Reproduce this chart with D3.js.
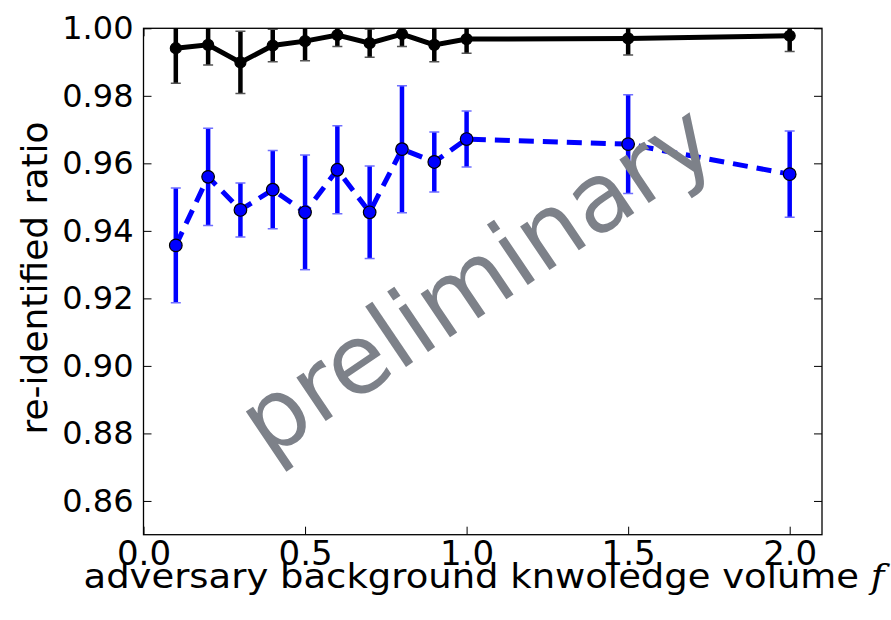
<!DOCTYPE html>
<html>
<head>
<meta charset="utf-8">
<script src="https://cdn.jsdelivr.net/npm/d3@7"></script>
<style>
  body { margin: 0; background: #fff; }
  svg { display: block; font-family: "DejaVu Sans", sans-serif; }
</style>
</head>
<body>
<svg id="chart" width="891" height="620"></svg>
<script>
// data
var xs = [0.1, 0.2, 0.3, 0.4, 0.5, 0.6, 0.7, 0.8, 0.9, 1.0, 1.5, 2.0];
var blackVals = [0.9941, 0.9951, 0.9899, 0.9949, 0.9962, 0.9980, 0.9956, 0.9983, 0.9951, 0.9968, 0.9970, 0.9978];
var blackErr = [0.0104, 0.0060, 0.0092, 0.0048, 0.0058, 0.0034, 0.0042, 0.0037, 0.0050, 0.0042, 0.0049, 0.0047];
var blueVals = [0.9357, 0.9560, 0.9462, 0.9522, 0.9455, 0.9581, 0.9455, 0.9642, 0.9604, 0.9672, 0.9657, 0.9568];
var blueErr = [0.0170, 0.0144, 0.0080, 0.0116, 0.0170, 0.0130, 0.0137, 0.0188, 0.0089, 0.0083, 0.0146, 0.0128];
var xTicks = [0.0, 0.5, 1.0, 1.5, 2.0];
var yTicks = [0.86, 0.88, 0.90, 0.92, 0.94, 0.96, 0.98, 1.00];

var svg = d3.select("#chart");
var mLeft = 143.5, mRight = 822, mTop = 28.3, mBottom = 534.7;

var x = d3.scaleLinear().domain([0, 2.1]).range([mLeft, mRight]);
var y = d3.scaleLinear().domain([0.85, 1.0]).range([mBottom, mTop]);

svg.append("defs").append("clipPath").attr("id", "clip")
  .append("rect")
  .attr("x", mLeft).attr("y", mTop)
  .attr("width", mRight - mLeft).attr("height", mBottom - mTop);

// axes, inward ticks on all sides
var tickLen = 8;
var xAxisG = svg.append("g")
  .attr("transform", "translate(0," + mBottom + ")")
  .call(d3.axisBottom(x).tickValues(xTicks).tickSizeInner(-tickLen).tickSizeOuter(0).tickPadding(6).tickFormat(d3.format(".1f")))
  .call(function(g) { g.select(".domain").remove(); });
svg.append("g")
  .attr("transform", "translate(0," + mTop + ")")
  .call(d3.axisTop(x).tickValues(xTicks).tickSizeInner(-tickLen).tickSizeOuter(0).tickFormat(""))
  .call(function(g) { g.select(".domain").remove(); });
var yAxisG = svg.append("g")
  .attr("transform", "translate(" + mLeft + ",0)")
  .call(d3.axisLeft(y).tickValues(yTicks).tickSizeInner(-tickLen).tickSizeOuter(0).tickPadding(10).tickFormat(d3.format(".2f")))
  .call(function(g) { g.select(".domain").remove(); });
svg.append("g")
  .attr("transform", "translate(" + mRight + ",0)")
  .call(d3.axisRight(y).tickValues(yTicks).tickSizeInner(-tickLen).tickSizeOuter(0).tickFormat(""))
  .call(function(g) { g.select(".domain").remove(); });

svg.selectAll(".tick line").attr("stroke", "#000").attr("stroke-width", 1);
svg.selectAll(".tick text")
  .attr("fill", "#000")
  .style("font-family", "DejaVu Sans");
yAxisG.selectAll(".tick text").style("font-size", "32px");
xAxisG.selectAll(".tick text").style("font-size", "34px");

var plot = svg.append("g").attr("clip-path", "url(#clip)");

function drawSeries(vals, errs, color, capColor, dashed, r, edge) {
  var pts = xs.map(function(d, i) { return { x: d, v: vals[i], e: errs[i] }; });
  var line = d3.line().x(function(d) { return x(d.x); }).y(function(d) { return y(d.v); });
  plot.append("path")
    .datum(pts)
    .attr("d", line)
    .attr("fill", "none")
    .attr("stroke", color)
    .attr("stroke-width", 5)
    .attr("stroke-dasharray", dashed ? "15,9" : null);

  plot.selectAll(null).data(pts).enter().append("line")
    .attr("x1", function(d) { return x(d.x); })
    .attr("x2", function(d) { return x(d.x); })
    .attr("y1", function(d) { return y(d.v - d.e); })
    .attr("y2", function(d) { return y(d.v + d.e); })
    .attr("stroke", color)
    .attr("stroke-width", 4.5);

  var caps = [];
  pts.forEach(function(d) { caps.push({ x: d.x, v: d.v - d.e }); caps.push({ x: d.x, v: d.v + d.e }); });
  plot.selectAll(null).data(caps).enter().append("line")
    .attr("x1", function(d) { return x(d.x) - 5; })
    .attr("x2", function(d) { return x(d.x) + 5; })
    .attr("y1", function(d) { return y(d.v); })
    .attr("y2", function(d) { return y(d.v); })
    .attr("stroke", capColor)
    .attr("stroke-width", 1.5);

  plot.selectAll(null).data(pts).enter().append("circle")
    .attr("cx", function(d) { return x(d.x); })
    .attr("cy", function(d) { return y(d.v); })
    .attr("r", r)
    .attr("fill", color)
    .attr("stroke", edge)
    .attr("stroke-width", 1.2);
}

drawSeries(blackVals, blackErr, "#000", "#555", false, 5.5, "#000");
drawSeries(blueVals, blueErr, "#0000ff", "#6f6fff", true, 6.3, "#000");

// frame
svg.append("rect")
  .attr("x", mLeft).attr("y", mTop)
  .attr("width", mRight - mLeft).attr("height", mBottom - mTop)
  .attr("fill", "none")
  .attr("stroke", "#000")
  .attr("stroke-width", 1.3);

// axis labels
var xlab = svg.append("text")
  .attr("transform", "translate(484,588) scale(1.12,1)")
  .attr("text-anchor", "middle")
  .style("font-size", "33px")
  .attr("fill", "#000");
xlab.append("tspan").text("adversary background knwoledge volume ");
xlab.append("tspan").style("font-style", "italic").style("font-family", "DejaVu Serif").text("f");

svg.append("text")
  .attr("transform", "translate(47,278) rotate(-90)")
  .attr("text-anchor", "middle")
  .style("font-size", "36px")
  .attr("fill", "#000")
  .text("re-identified ratio");

// watermark
svg.append("text")
  .attr("transform", "translate(268,460) rotate(-34)")
  .style("font-size", "96px")
  .attr("fill", "#7d8189")
  .text("preliminary");
</script>
</body>
</html>
